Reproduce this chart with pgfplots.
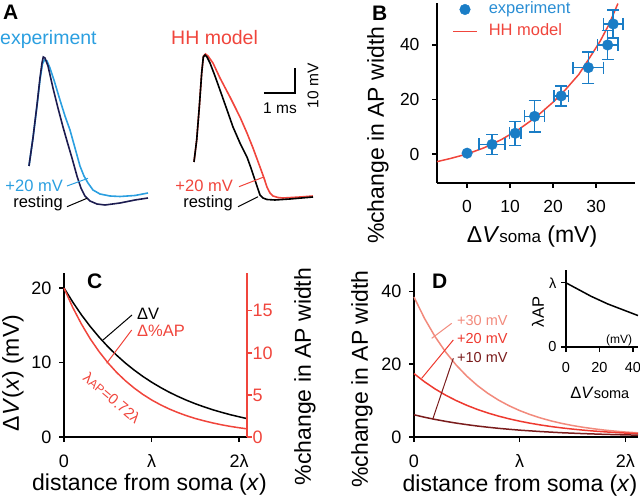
\documentclass[border=0pt]{standalone}
\usepackage{fontspec}
\setmainfont{Liberation Sans}
\usepackage{pgfplots}
\pgfplotsset{compat=1.18}
\newcommand\fs[1]{\fontsize{#1}{#1}\selectfont}
\definecolor{lblue}{HTML}{2B9FE0}
\definecolor{navy}{HTML}{1C1C50}
\definecolor{pblue}{HTML}{1A7DC6}
\definecolor{tblue}{HTML}{2A8ED4}
\definecolor{hred}{HTML}{F0453C}
\definecolor{dlight}{HTML}{F28A7C}
\definecolor{dmid}{HTML}{EE3A30}
\definecolor{ddark}{HTML}{7A1C1C}
\pgfplotsset{
  /pgf/number format/assume math mode=true,
  panel/.style={scale only axis, axis lines=left,
    axis line style={-, line width=1.3pt, black},
    tick align=outside, major tick length=5pt,
    tick style={line width=1.3pt, black},
    tick label style={font=\fs{18}},
    label style={font=\fs{23}},
    clip=false},
  legline/.style={legend image code/.code={\draw[##1, line width=1.5pt] (0pt,0pt) -- (24pt,0pt);}},
  legmark/.style={legend image code/.code={\draw[mark repeat=2,mark phase=2,##1] plot coordinates {(0pt,0pt) (12pt,0pt) (24pt,0pt)};}},
}
\begin{document}
\begin{tikzpicture}
\path[use as bounding box] (0,0) rectangle (640pt,501pt);

% ---------------- Panel A ----------------
\begin{axis}[at={(0pt,281pt)}, anchor=south west, scale only axis,
  width=330pt, height=190pt, xmin=-0.935, xmax=9.71, ymin=-21.6, ymax=54.4,
  hide axis, clip=false]
\addplot[lblue, line width=1.6pt] coordinates {(0,0) (0.129,11.2) (0.258,24.0) (0.355,34.4) (0.435,40.8) (0.5,42.4) (0.581,42.0) (0.677,39.2) (0.806,34.4) (0.903,30.4) (1.0,26.4) (1.161,20.0) (1.323,14.4) (1.484,7.2) (1.645,0) (1.774,-4.0) (1.903,-6.8) (2.065,-9.6) (2.290,-11.2) (2.613,-12.0) (2.935,-12.2) (3.419,-11.8) (3.839,-10.8)};
\addplot[navy, line width=1.6pt] coordinates {(0,0) (0.129,11.2) (0.258,24.4) (0.355,35.2) (0.419,41.2) (0.461,43.6) (0.516,43.2) (0.613,40.0) (0.774,31.2) (0.935,23.2) (1.097,15.6) (1.226,10.0) (1.387,3.2) (1.548,-4.0) (1.677,-8.8) (1.806,-12.0) (1.968,-14.0) (2.194,-15.2) (2.452,-15.6) (2.935,-14.8) (3.419,-13.6) (3.839,-12.8)};
\addplot[hred, line width=1.6pt] coordinates {(5.323,1.6) (5.410,10.4) (5.494,23.6) (5.571,37.2) (5.629,44.0) (5.694,44.8) (5.774,44.0) (5.935,41.2) (6.161,35.2) (6.484,27.6) (6.806,19.6) (7.032,13.2) (7.226,7.2) (7.452,-0.4) (7.581,-4.8) (7.677,-8.4) (7.774,-10.8) (7.871,-12.0) (8.032,-12.6) (8.194,-12.8) (8.742,-12.4) (9.161,-12.0)};
\addplot[black, line width=1.6pt] coordinates {(5.323,1.6) (5.410,10.4) (5.494,23.6) (5.571,37.2) (5.623,43.6) (5.677,44.4) (5.742,43.6) (5.839,41.2) (6.0,36.0) (6.161,30.4) (6.355,23.6) (6.581,15.6) (6.806,9.2) (7.032,3.6) (7.161,-0.8) (7.290,-5.6) (7.387,-9.2) (7.452,-11.6) (7.548,-12.8) (7.677,-13.4) (7.935,-13.6) (8.419,-13.2) (9.161,-12.4)};
\addplot[black, line width=1.3pt] coordinates {(7.58,29.2) (8.58,29.2) (8.58,39.2)};
\end{axis}
\node[anchor=base west, inner sep=0, font=\fs{21}\bfseries] at (3pt,481pt) {A};
\node[anchor=base west, inner sep=0, text=lblue, font=\fs{19.5}] at (0pt,456pt) {experiment};
\node[anchor=base west, inner sep=0, text=hred, font=\fs{19.5}] at (171pt,456pt) {HH model};
\node[anchor=base east, inner sep=0, text=lblue, font=\fs{16.5}] at (63pt,309.3pt) {+20 mV};
\node[anchor=base east, inner sep=0, font=\fs{16.5}] at (63pt,293.3pt) {resting};
\node[anchor=base east, inner sep=0, text=hred, font=\fs{16.5}] at (233pt,309.3pt) {+20 mV};
\node[anchor=base east, inner sep=0, font=\fs{16.5}] at (233pt,293.7pt) {resting};
\draw[lblue, line width=1pt] (67pt,315pt) -- (88pt,322.7pt);
\draw[black, line width=1pt] (67pt,294.3pt) -- (87pt,302.7pt);
\draw[hred, line width=1pt] (239pt,314.3pt) -- (263pt,323.7pt);
\draw[black, line width=1pt] (238pt,294.3pt) -- (258pt,304.3pt);
\node[anchor=base, inner sep=0, font=\fs{15.5}] at (280pt,387pt) {1 ms};
\node[rotate=90, inner sep=0, font=\fs{15.5}] at (313pt,415pt) {10 mV};

% ---------------- Panel B ----------------
\begin{axis}[panel, at={(437pt,318pt)}, anchor=south west,
  width=198pt, height=180pt, xmin=-7, xmax=39.07, ymin=-10.64, ymax=55.4,
  xtick={0,10,20,30}, ytick={0,20,40},
  tick label style={font=\fs{17.5}},
  yticklabel style={xshift=-9pt}, xticklabel style={yshift=-9pt},
  xlabel={Δ\textit{V}{\fs{17}soma} (mV)},
  ylabel={\%change in AP width},
  xlabel style={at={(axis description cs:0.48,-0.30)}, anchor=center},
  ylabel style={font=\fs{23}, at={(axis description cs:-0.298,0.265)}, anchor=center},
  reverse legend, legend cell align=left,
  legend style={draw=none, fill=none, at={(axis description cs:0.076,1.015)},
    anchor=north west, inner sep=0pt, row sep=4pt, font=\fs{16.5},
    nodes={inner sep=1pt, text height=12pt, text depth=4pt},
    /tikz/every odd column/.append style={column sep=10pt}}]
\addplot[hred, line width=1.5pt, legline]
  coordinates {(-7,-2.8) (-4,-1.7) (0,0) (4,2.3) (8,5.3) (12,9.0) (16,13.5) (20,19.0) (23,23.8) (26,29.2) (29,36.5) (31,41.5) (33,47.5) (35.1,55.2)};
\addlegendentry{\textcolor{hred}{HH model}}
\addplot[only marks, mark=*, mark size=5.3pt, pblue, forget plot] coordinates {(0,0.3)};
\addplot[only marks, mark=*, mark size=5.3pt, pblue, legmark,
  error bars/.cd, x dir=both, x explicit, y dir=both, y explicit,
  error bar style={line width=1.5pt, pblue},
  error mark options={rotate=90, mark size=6pt, line width=1.5pt, pblue}]
  coordinates {
  (5.8,3.5) +- (3.0,3.6)
  (11.2,7.6) +- (1.3,4.4)
  (15.7,13.8) +- (2.3,5.8)
  (21.9,21.3) +- (1.7,3.7)
  (28.2,31.7) +- (3.5,5.8)
  (32.7,40.0) +- (2.4,5.3)
  (34.0,47.7) +- (2.3,5.1)};
\addlegendentry{\textcolor{tblue}{experiment}}
\end{axis}
\node[anchor=base west, inner sep=0, font=\fs{21}\bfseries] at (372pt,480.3pt) {B};

% ---------------- Panel C ----------------
\begin{axis}[panel, at={(64pt,64pt)}, anchor=south west,
  width=183pt, height=164pt, xmin=0, xmax=2.09, ymin=0, ymax=22,
  xtick={0,1,2}, xticklabels={0,λ,2λ}, ytick={0,10,20},
  yticklabel style={xshift=-4pt}, xticklabel style={yshift=-9pt},
  xlabel={distance from soma (\textit{x})},
  ylabel={Δ\textit{V}(\textit{x}) (mV)},
  xlabel style={at={(axis description cs:0.467,-0.287)}, anchor=center},
  ylabel style={at={(axis description cs:-0.279,0.39)}, anchor=center}]
\addplot[black, line width=1.5pt] coordinates {(0,20) (0.1,18.10) (0.2,16.37) (0.3,14.82) (0.4,13.41) (0.5,12.13) (0.6,10.98) (0.7,9.93) (0.8,8.99) (0.9,8.13) (1.0,7.36) (1.1,6.66) (1.2,6.02) (1.3,5.45) (1.4,4.93) (1.5,4.46) (1.6,4.04) (1.7,3.65) (1.8,3.31) (1.9,2.99) (2.0,2.71) (2.09,2.47)};
\end{axis}
\begin{axis}[scale only axis, at={(64pt,64pt)}, anchor=south west,
  width=183pt, height=164pt, xmin=0, xmax=2.09, ymin=0, ymax=19.5,
  axis x line=none, axis y line=right,
  axis line style={-, line width=1.3pt, hred},
  tick align=outside, major tick length=5pt,
  tick style={line width=1.3pt, hred},
  ytick={0,5,10,15},
  yticklabel style={font=\fs{18}, text=hred, xshift=-3pt},
  ylabel={\%change in AP width},
  ylabel style={font=\fs{23}, at={(axis description cs:1.317,0.369)}, anchor=center},
  clip=false]
\addplot[hred, line width=1.5pt] coordinates {(0,17.7) (0.1,15.40) (0.2,13.41) (0.3,11.67) (0.4,10.16) (0.5,8.84) (0.6,7.69) (0.7,6.70) (0.8,5.83) (0.9,5.07) (1.0,4.41) (1.1,3.84) (1.2,3.34) (1.3,2.91) (1.4,2.53) (1.5,2.20) (1.6,1.92) (1.7,1.67) (1.8,1.45) (1.9,1.26) (2.0,1.10) (2.09,0.97)};
\end{axis}
\node[anchor=base west, inner sep=0, font=\fs{21}\bfseries] at (87pt,212.7pt) {C};
\node[anchor=base west, inner sep=0, font=\fs{16.5}] at (137pt,181pt) {ΔV};
\node[anchor=base west, inner sep=0, text=hred, font=\fs{16.5}] at (137pt,164pt) {Δ\%AP};
\draw[black, line width=1pt] (103pt,161pt) -- (132pt,186pt);
\draw[hred, line width=1pt] (106.7pt,137.7pt) -- (131.7pt,171pt);
\node[rotate=-40, inner sep=0, text=hred, font=\fs{15}] at (112pt,103pt) {λ{\fs{12}AP}=0.72λ};

% ---------------- Panel D ----------------
\begin{axis}[panel, at={(414pt,64pt)}, anchor=south west,
  width=224pt, height=164pt, xmin=0, xmax=2.12, ymin=0, ymax=45,
  xtick={0,1,2}, xticklabels={0,λ,2λ}, ytick={0,20,40},
  yticklabel style={xshift=-4pt}, xticklabel style={yshift=-9pt},
  xlabel={distance from soma (\textit{x})},
  ylabel={\%change in AP width},
  xlabel style={at={(axis description cs:0.473,-0.293)}, anchor=center},
  ylabel style={at={(axis description cs:-0.232,0.354)}, anchor=center}]
\addplot[dlight, line width=1.5pt] coordinates {(0,38.4) (0.1,32.51) (0.2,27.51) (0.3,23.29) (0.4,19.71) (0.5,16.69) (0.6,14.13) (0.7,11.96) (0.8,10.12) (0.9,8.57) (1.0,7.25) (1.1,6.14) (1.2,5.20) (1.3,4.40) (1.4,3.72) (1.5,3.15) (1.6,2.67) (1.7,2.26) (1.8,1.91) (1.9,1.62) (2.0,1.37) (2.12,1.14)};
\addplot[dmid, line width=1.5pt] coordinates {(0,17.4) (0.1,15.14) (0.2,13.18) (0.3,11.47) (0.4,9.98) (0.5,8.69) (0.6,7.56) (0.7,6.58) (0.8,5.73) (0.9,4.99) (1.0,4.34) (1.1,3.78) (1.2,3.29) (1.3,2.86) (1.4,2.49) (1.5,2.17) (1.6,1.89) (1.7,1.64) (1.8,1.43) (1.9,1.24) (2.0,1.08) (2.12,0.93)};
\addplot[ddark, line width=1.5pt] coordinates {(0,6.1) (0.1,5.42) (0.2,4.82) (0.3,4.29) (0.4,3.81) (0.5,3.39) (0.6,3.01) (0.7,2.68) (0.8,2.38) (0.9,2.12) (1.0,1.88) (1.2,1.49) (1.4,1.17) (1.6,0.93) (1.8,0.73) (2.0,0.58) (2.12,0.51)};
\end{axis}
\node[anchor=base west, inner sep=0, font=\fs{21}\bfseries] at (432pt,212.7pt) {D};
\node[anchor=base west, inner sep=0, text=dlight, font=\fs{14.5}] at (457pt,175pt) {+30 mV};
\node[anchor=base west, inner sep=0, text=dmid, font=\fs{14.5}] at (457pt,157pt) {+20 mV};
\node[anchor=base west, inner sep=0, text=ddark, font=\fs{14.5}] at (457pt,138.3pt) {+10 mV};
\draw[dlight, line width=1pt] (431.7pt,162.7pt) -- (451.7pt,177.7pt);
\draw[dmid, line width=1pt] (421.7pt,122.7pt) -- (453.3pt,161pt);
\draw[ddark, line width=1pt] (432.7pt,81.7pt) -- (453.3pt,142.7pt);

% inset
\begin{axis}[panel, at={(566pt,154pt)}, anchor=south west,
  width=72pt, height=77pt, xmin=0, xmax=43, ymin=0, ymax=1.2,
  xtick={0,20,40}, ytick={0,1}, yticklabels={0,λ},
  tick label style={font=\fs{14.5}},
  xticklabel style={yshift=-7pt}, yticklabel style={xshift=-1pt},
  label style={font=\fs{16.5}},
  xlabel={Δ\textit{V}{\fs{14.5}soma}},
  ylabel={λAP},
  xlabel style={at={(axis description cs:0.47,-0.6)}, anchor=center},
  ylabel style={at={(axis description cs:-0.39,0.455)}, anchor=center}]
\addplot[black, line width=1.5pt] coordinates {(0,1.0) (5,0.93) (10,0.86) (15,0.79) (20,0.73) (25,0.67) (30,0.62) (35,0.57) (40,0.52) (43,0.49)};
\end{axis}
\node[inner sep=0, font=\fs{12}] at (619pt,161pt) {(mV)};
\end{tikzpicture}
\end{document}
